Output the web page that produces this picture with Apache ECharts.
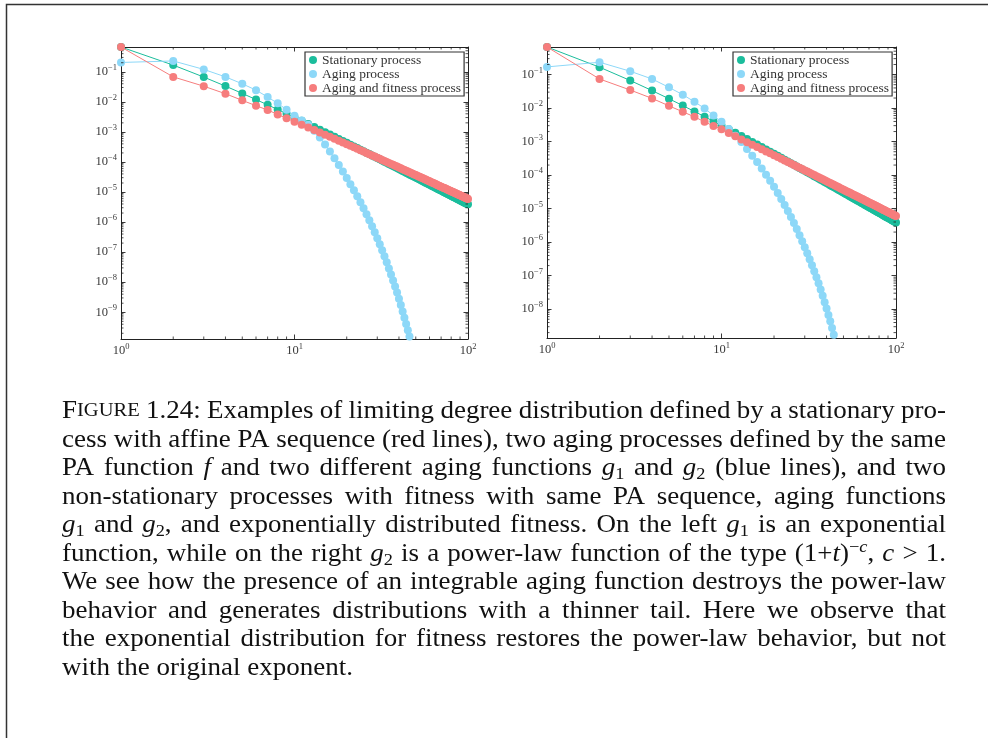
<!DOCTYPE html>
<html>
<head>
<meta charset="utf-8">
<script src="https://cdn.jsdelivr.net/npm/echarts@6/dist/echarts.min.js"></script>
<style>
  html, body { margin: 0; padding: 0; background: #fff; }
  #main { width: 988px; height: 738px; }
</style>
</head>
<body>
<div id="main"></div>
<script>
// ---- data -------------------------------------------------------------
const seriesNames = ['Stationary process', 'Aging process', 'Aging and fitness process'];
const seriesColors = ['#1bbd9c', '#8dd8f8', '#f67d7d'];
const degree = Array.from({ length: 100 }, (_, i) => i + 1);
const xTickValues = [1, 10, 100];

// limiting degree distribution of the stationary process (same in both panels)
const stationary = [
  6.667e-1, 1.667e-1, 6.667e-2, 3.333e-2, 1.905e-2, 1.190e-2, 7.937e-3, 5.556e-3, 4.040e-3, 3.030e-3,
  2.331e-3, 1.832e-3, 1.465e-3, 1.190e-3, 9.804e-4, 8.170e-4, 6.880e-4, 5.848e-4, 5.013e-4, 4.329e-4,
  3.764e-4, 3.294e-4, 2.899e-4, 2.564e-4, 2.279e-4, 2.035e-4, 1.825e-4, 1.642e-4, 1.483e-4, 1.344e-4,
  1.222e-4, 1.114e-4, 1.019e-4, 9.337e-5, 8.580e-5, 7.903e-5, 7.295e-5, 6.748e-5, 6.254e-5, 5.807e-5,
  5.402e-5, 5.034e-5, 4.698e-5, 4.392e-5, 4.111e-5, 3.854e-5, 3.618e-5, 3.401e-5, 3.201e-5, 3.017e-5,
  2.846e-5, 2.688e-5, 2.541e-5, 2.405e-5, 2.278e-5, 2.161e-5, 2.051e-5, 1.948e-5, 1.852e-5, 1.763e-5,
  1.679e-5, 1.600e-5, 1.526e-5, 1.457e-5, 1.392e-5, 1.330e-5, 1.272e-5, 1.218e-5, 1.166e-5, 1.118e-5,
  1.072e-5, 1.028e-5, 9.873e-6, 9.483e-6, 9.114e-6, 8.763e-6, 8.430e-6, 8.114e-6, 7.814e-6, 7.528e-6,
  7.256e-6, 6.997e-6, 6.750e-6, 6.514e-6, 6.290e-6, 6.075e-6, 5.870e-6, 5.675e-6, 5.488e-6, 5.309e-6,
  5.137e-6, 4.973e-6, 4.816e-6, 4.666e-6, 4.522e-6, 4.383e-6, 4.250e-6, 4.123e-6, 4.000e-6, 3.883e-6
];

// left panel: exponential aging function g1
const agingLeft = [
  2.04e-1, 2.29e-1, 1.20e-1, 6.76e-2, 3.98e-2, 2.45e-2, 1.45e-2, 8.91e-3, 5.50e-3, 3.47e-3,
  2.40e-3, 1.74e-3, 1.10e-3, 6.46e-4, 3.80e-4, 2.24e-4, 1.32e-4, 7.94e-5, 4.79e-5, 2.95e-5,
  1.82e-5, 1.15e-5, 7.24e-6, 4.57e-6, 2.88e-6, 1.82e-6, 1.15e-6, 7.24e-7, 4.57e-7, 2.88e-7,
  1.82e-7, 1.15e-7, 7.24e-8, 4.57e-8, 2.88e-8, 1.82e-8, 1.15e-8, 7.24e-9, 4.57e-9, 2.82e-9,
  1.74e-9, 1.07e-9, 6.61e-10, 4.07e-10, 2.51e-10, 1.55e-10, 9.55e-11, 5.75e-11
];
const fitnessLeft = [
  6.667e-1, 6.76e-2, 3.31e-2, 1.86e-2, 1.12e-2, 7.41e-3, 5.37e-3, 3.80e-3, 2.82e-3, 2.19e-3,
  1.741e-3, 1.407e-3, 1.154e-3, 9.60e-4, 8.09e-4, 6.88e-4, 5.90e-4, 5.11e-4, 4.46e-4, 3.91e-4,
  3.46e-4, 3.07e-4, 2.74e-4, 2.46e-4, 2.21e-4, 2.00e-4, 1.816e-4, 1.653e-4, 1.510e-4, 1.384e-4,
  1.271e-4, 1.171e-4, 1.081e-4, 1.000e-4, 9.28e-5, 8.62e-5, 8.03e-5, 7.49e-5, 7.00e-5, 6.56e-5,
  6.15e-5, 5.77e-5, 5.43e-5, 5.11e-5, 4.82e-5, 4.55e-5, 4.30e-5, 4.07e-5, 3.86e-5, 3.66e-5,
  3.47e-5, 3.30e-5, 3.14e-5, 2.99e-5, 2.85e-5, 2.72e-5, 2.59e-5, 2.48e-5, 2.37e-5, 2.27e-5,
  2.17e-5, 2.08e-5, 1.99e-5, 1.91e-5, 1.84e-5, 1.76e-5, 1.69e-5, 1.63e-5, 1.57e-5, 1.51e-5,
  1.45e-5, 1.40e-5, 1.35e-5, 1.30e-5, 1.258e-5, 1.215e-5, 1.173e-5, 1.134e-5, 1.096e-5, 1.061e-5,
  1.027e-5, 9.94e-6, 9.63e-6, 9.32e-6, 9.04e-6, 8.76e-6, 8.49e-6, 8.25e-6, 8.00e-6, 7.77e-6,
  7.54e-6, 7.33e-6, 7.12e-6, 6.92e-6, 6.73e-6, 6.55e-6, 6.37e-6, 6.20e-6, 6.04e-6, 5.88e-6
];

// right panel: power-law aging function g2
const agingRight = [
  1.70e-1, 2.34e-1, 1.26e-1, 7.41e-2, 4.17e-2, 2.51e-2, 1.55e-2, 9.77e-3, 6.03e-3, 3.89e-3,
  2.40e-3, 1.51e-3, 9.77e-4, 6.03e-4, 3.80e-4, 2.45e-4, 1.58e-4, 1.02e-4, 6.76e-5, 4.47e-5,
  2.95e-5, 1.95e-5, 1.29e-5, 8.51e-6, 5.62e-6, 3.72e-6, 2.45e-6, 1.62e-6, 1.07e-6, 7.08e-7,
  4.68e-7, 3.09e-7, 2.04e-7, 1.35e-7, 8.91e-8, 5.89e-8, 3.89e-8, 2.51e-8, 1.62e-8, 1.05e-8,
  6.76e-9, 4.37e-9, 2.75e-9, 1.74e-9, 1.10e-9, 6.92e-10
];
const fitnessRight = [
  6.667e-1, 7.41e-2, 3.47e-2, 1.95e-2, 1.17e-2, 7.76e-3, 5.50e-3, 3.89e-3, 2.95e-3, 2.34e-3,
  1.80e-3, 1.44e-3, 1.165e-3, 9.65e-4, 8.12e-4, 6.90e-4, 5.91e-4, 5.12e-4, 4.47e-4, 3.92e-4,
  3.47e-4, 3.08e-4, 2.75e-4, 2.47e-4, 2.22e-4, 2.01e-4, 1.822e-4, 1.658e-4, 1.514e-4, 1.387e-4,
  1.274e-4, 1.173e-4, 1.083e-4, 1.002e-4, 9.30e-5, 8.64e-5, 8.05e-5, 7.51e-5, 7.02e-5, 6.58e-5,
  6.17e-5, 5.79e-5, 5.45e-5, 5.13e-5, 4.84e-5, 4.57e-5, 4.32e-5, 4.09e-5, 3.88e-5, 3.68e-5,
  3.49e-5, 3.32e-5, 3.16e-5, 3.01e-5, 2.87e-5, 2.74e-5, 2.61e-5, 2.50e-5, 2.39e-5, 2.29e-5,
  2.19e-5, 2.10e-5, 2.01e-5, 1.93e-5, 1.86e-5, 1.78e-5, 1.71e-5, 1.65e-5, 1.59e-5, 1.53e-5,
  1.47e-5, 1.42e-5, 1.37e-5, 1.32e-5, 1.275e-5, 1.232e-5, 1.190e-5, 1.150e-5, 1.112e-5, 1.076e-5,
  1.042e-5, 1.009e-5, 9.77e-6, 9.46e-6, 9.17e-6, 8.89e-6, 8.62e-6, 8.37e-6, 8.12e-6, 7.89e-6,
  7.66e-6, 7.45e-6, 7.24e-6, 7.04e-6, 6.85e-6, 6.66e-6, 6.48e-6, 6.31e-6, 6.15e-6, 5.99e-6
];

// caption text, one entry per typeset line ({style|text} marks italic / sub / sup runs)
const captionLines = [
  '{sc1|F}{sc|IGURE} 1.24: Examples of limiting degree distribution defined by a stationary pro-',
  'cess with affine PA sequence (red lines), two aging processes defined by the same',
  'PA function {i|f} and two different aging functions {i|g}{sub|1} and {i|g}{sub|2} (blue lines), and two',
  'non-stationary processes with fitness with same PA sequence, aging functions',
  '{i|g}{sub|1} and {i|g}{sub|2}, and exponentially distributed fitness. On the left {i|g}{sub|1} is an exponential',
  'function, while on the right {i|g}{sub|2} is a power-law function of the type (1+{i|t}){sup|\u2212}{supi|c}, {i|c} > 1.',
  'We see how the presence of an integrable aging function destroys the power-law',
  'behavior and generates distributions with a thinner tail. Here we observe that',
  'the exponential distribution for fitness restores the power-law behavior, but not',
  'with the original exponent.'
];

// ---- layout -----------------------------------------------------------
const SERIF = '"Liberation Serif", "Times New Roman", serif';
const panels = [
  { grid: { left: 121, top: 47, width: 347, height: 292 }, yMin: 1.29e-10, yMax: 0.667,
    aging: agingLeft, fitness: fitnessLeft, legendLeft: 305 },
  { grid: { left: 547, top: 47, width: 349, height: 291 }, yMin: 1.38e-9, yMax: 0.667,
    aging: agingRight, fitness: fitnessRight, legendLeft: 733 }
];

function powLabel(v) {
  const e = Math.log10(v);
  const r = Math.round(e);
  if (Math.abs(e - r) > 0.02) return '';
  return '{b|10}{s|' + (r < 0 ? '\u2212' + (-r) : String(r)) + '}';
}
const labelRich = {
  b: { fontFamily: SERIF, fontSize: 12.5, color: '#3a3a3a', lineHeight: 17, verticalAlign: 'middle' },
  s: { fontFamily: SERIF, fontSize: 8.5, color: '#3a3a3a', lineHeight: 9, verticalAlign: 'top' }
};

function minorValues(lo, hi) {
  const out = [];
  for (let e = Math.floor(Math.log10(lo)); e <= Math.ceil(Math.log10(hi)); e++) {
    for (let m = 2; m <= 9; m++) {
      const v = m * Math.pow(10, e);
      if (v > lo && v < hi) out.push(v);
    }
  }
  return out;
}

function minorTickSeries(axisIdx, dir, values, ref) {
  return {
    type: 'custom', xAxisIndex: axisIdx, yAxisIndex: axisIdx, silent: true, z: 4,
    clip: false, tooltip: { show: false },
    data: values.map(v => dir === 'x' ? [v, ref] : [ref, v]),
    renderItem: (params, api) => {
      const cs = params.coordSys;
      const p = api.coord([api.value(0), api.value(1)]);
      const st = { stroke: '#222', lineWidth: 0.8 };
      const L = 2.5;
      if (dir === 'x') {
        return { type: 'group', children: [
          { type: 'line', shape: { x1: p[0], y1: cs.y + cs.height, x2: p[0], y2: cs.y + cs.height - L }, style: st },
          { type: 'line', shape: { x1: p[0], y1: cs.y, x2: p[0], y2: cs.y + L }, style: st }
        ] };
      }
      return { type: 'group', children: [
        { type: 'line', shape: { x1: cs.x, y1: p[1], x2: cs.x + L, y2: p[1] }, style: st },
        { type: 'line', shape: { x1: cs.x + cs.width, y1: p[1], x2: cs.x + cs.width - L, y2: p[1] }, style: st }
      ] };
    }
  };
}

const grids = [], xAxes = [], yAxes = [], series = [], legends = [];
const axisLineStyle = { show: true, lineStyle: { color: '#222', width: 1 } };
const majorTick = { show: true, inside: true, length: 4.5, lineStyle: { color: '#222', width: 0.9 } };

panels.forEach((pn, gi) => {
  grids.push(pn.grid);
  const xBase = { type: 'log', logBase: 10, gridIndex: gi, min: 1, max: 100, splitNumber: 2,
    axisLine: axisLineStyle, axisTick: majorTick, splitLine: { show: false } };
  xAxes.push(Object.assign({}, xBase, { position: 'bottom',
    axisLabel: { margin: 3, formatter: powLabel, rich: labelRich } }));
  xAxes.push(Object.assign({}, xBase, { position: 'top', axisLabel: { show: false } }));
  const yBase = { type: 'log', logBase: 10, gridIndex: gi, min: pn.yMin, max: pn.yMax, splitNumber: 10,
    axisLine: axisLineStyle, axisTick: majorTick, splitLine: { show: false } };
  yAxes.push(Object.assign({}, yBase, { position: 'left',
    axisLabel: { margin: 4, formatter: powLabel, rich: labelRich } }));
  yAxes.push(Object.assign({}, yBase, { position: 'right', axisLabel: { show: false } }));

  const ax = gi * 2;
  const curves = [stationary, pn.aging, pn.fitness];
  curves.forEach((vals, si) => {
    series.push({
      name: seriesNames[si], type: 'line', xAxisIndex: ax, yAxisIndex: ax,
      data: vals.map((v, i) => [degree[i], v]),
      symbol: 'circle', symbolSize: 8, showSymbol: true, clip: true,
      itemStyle: { color: seriesColors[si] },
      lineStyle: { color: seriesColors[si], width: 1 },
      emphasis: { disabled: true }, z: 2 + si
    });
  });
  series.push(minorTickSeries(ax, 'x', minorValues(1, 100), pn.yMax));
  series.push(minorTickSeries(ax, 'y', minorValues(pn.yMin, pn.yMax), 1));

  legends.push({
    data: seriesNames, orient: 'vertical', left: pn.legendLeft, top: 52,
    icon: 'circle', itemWidth: 8, itemHeight: 8, itemGap: 0,
    padding: [1, 3, 1, 4], backgroundColor: '#fff',
    borderColor: '#333', borderWidth: 1.2, borderRadius: 0,
    textStyle: { fontFamily: SERIF, fontSize: 13.5, color: '#333', lineHeight: 12.7 },
    selectedMode: false
  });
});

// ---- caption: justified words ------------------------------------------
const capSize = 25, capScale = 1.08, capLeft = 62, capRight = 946;
const capRich = {
  n: { fontFamily: SERIF, fontSize: capSize, fill: '#111', lineHeight: 30, verticalAlign: 'middle' },
  i: { fontFamily: SERIF, fontSize: capSize, fontStyle: 'italic', fill: '#111', lineHeight: 30, verticalAlign: 'middle' },
  sub: { fontFamily: SERIF, fontSize: 17, fill: '#111', lineHeight: 15, verticalAlign: 'bottom' },
  sup: { fontFamily: SERIF, fontSize: 17, fill: '#111', lineHeight: 17, verticalAlign: 'top' },
  supi: { fontFamily: SERIF, fontSize: 17, fontStyle: 'italic', fill: '#111', lineHeight: 17, verticalAlign: 'top' },
  sc1: { fontFamily: SERIF, fontSize: capSize, fill: '#111', lineHeight: 30, verticalAlign: 'middle' },
  sc: { fontFamily: SERIF, fontSize: 19, fill: '#111', lineHeight: 30, verticalAlign: 'middle' }
};
const measureCtx = document.createElement('canvas').getContext('2d');
function segWidth(styleName, text) {
  const s = capRich[styleName];
  measureCtx.font = (s.fontStyle === 'italic' ? 'italic ' : '') + s.fontSize + 'px ' + SERIF;
  return measureCtx.measureText(text).width;
}
function parseWord(word) {
  const re = /\{(\w+)\|([^}]*)\}|([^{]+)/g;
  const segs = [];
  let m;
  while ((m = re.exec(word)) !== null) {
    if (m[1]) segs.push([m[1], m[2]]); else segs.push(['n', m[3]]);
  }
  return segs;
}
const lineCenters = [411, 440, 468, 497, 525, 554, 582, 611, 639, 668];
const captionEls = [];
captionLines.forEach((line, li) => {
  const words = line.split(' ').map(w => {
    const segs = parseWord(w);
    const width = segs.reduce((a, s) => a + segWidth(s[0], s[1]), 0) * capScale;
    const rich = segs.map(s => '{' + s[0] + '|' + s[1] + '}').join('');
    return { width, rich };
  });
  const total = words.reduce((a, w) => a + w.width, 0);
  const last = li === captionLines.length - 1;
  const gap = last ? segWidth('n', ' ') * capScale : (capRight - capLeft - total) / (words.length - 1);
  let x = capLeft;
  words.forEach(w => {
    captionEls.push({
      type: 'text', x: x, y: lineCenters[li], scaleX: capScale, z: 10, silent: true,
      style: { text: w.rich, rich: capRich, align: 'left', verticalAlign: 'middle', fill: '#111',
               font: capSize + 'px ' + SERIF }
    });
    x += w.width + gap;
  });
});

// page frame (top and left rules)
captionEls.push({
  type: 'polyline', silent: true, z: 10,
  shape: { points: [[6.5, 738], [6.5, 4.5], [988, 4.5]] },
  style: { stroke: '#333', lineWidth: 1.5, fill: null }
});

const chart = echarts.init(document.getElementById('main'), null, { renderer: 'canvas' });
chart.setOption({
  animation: false,
  backgroundColor: '#fff',
  grid: grids,
  xAxis: xAxes,
  yAxis: yAxes,
  legend: legends,
  series: series,
  graphic: { elements: captionEls }
});
</script>
</body>
</html>
